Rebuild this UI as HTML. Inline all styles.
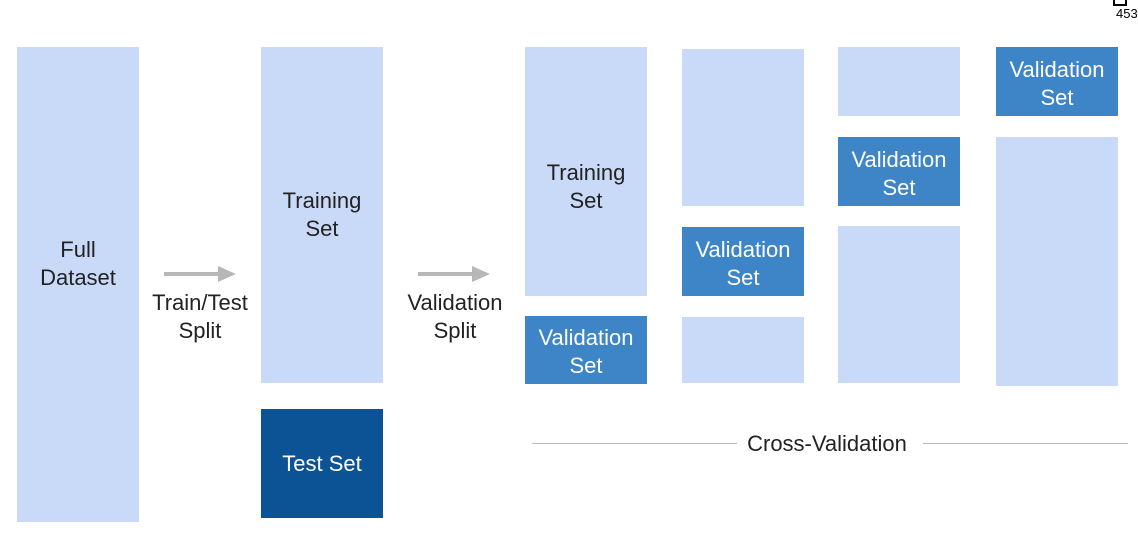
<!DOCTYPE html><html><head><style>
body{margin:0;width:1138px;height:540px;background:#fff;position:relative;overflow:hidden;font-family:"Liberation Sans",sans-serif;}
.b{position:absolute;display:flex;align-items:center;justify-content:center;text-align:center;font-size:22px;line-height:28px;color:#222;box-sizing:border-box}
.l{background:#c9daf8}.m{background:#3d85c6;color:#fff}.d{background:#0b5394;color:#fff}
.t{position:absolute;font-size:22px;line-height:28px;color:#222;text-align:center}
.ln{position:absolute;height:1px;background:#bbb;top:443px}
</style></head><body>
<div class="b l" style="left:17px;top:47px;width:122px;height:475px;padding-bottom:42px">Full<br>Dataset</div>
<div class="b l" style="left:261px;top:47px;width:122px;height:336px">Training<br>Set</div>
<div class="b d" style="left:261px;top:409px;width:122px;height:109px">Test Set</div>
<div class="b l" style="left:525px;top:47px;width:122px;height:249px;padding-top:30px">Training<br>Set</div>
<div class="b m" style="left:525px;top:316px;width:122px;height:68px;padding-top:4px">Validation<br>Set</div>
<div class="b l" style="left:682px;top:49px;width:122px;height:157px"></div>
<div class="b m" style="left:682px;top:227px;width:122px;height:69px;padding-top:4px">Validation<br>Set</div>
<div class="b l" style="left:682px;top:317px;width:122px;height:66px"></div>
<div class="b l" style="left:838px;top:47px;width:122px;height:69px"></div>
<div class="b m" style="left:838px;top:137px;width:122px;height:69px;padding-top:4px">Validation<br>Set</div>
<div class="b l" style="left:838px;top:226px;width:122px;height:157px"></div>
<div class="b m" style="left:996px;top:47px;width:122px;height:69px;padding-top:4px">Validation<br>Set</div>
<div class="b l" style="left:996px;top:137px;width:122px;height:249px"></div>
<svg style="position:absolute;left:0;top:0" width="1138" height="540">
<line x1="164" y1="274" x2="220" y2="274" stroke="#b7b7b7" stroke-width="4"/>
<polygon points="218,266 236,274 218,282" fill="#b7b7b7"/>
<line x1="418" y1="274" x2="474" y2="274" stroke="#b7b7b7" stroke-width="4"/>
<polygon points="472,266 490,274 472,282" fill="#b7b7b7"/>
</svg>
<div class="t" style="left:140px;top:289px;width:120px">Train/Test<br>Split</div>
<div class="t" style="left:395px;top:289px;width:120px">Validation<br>Split</div>
<div class="ln" style="left:532px;width:205px"></div>
<div class="ln" style="left:923px;width:205px"></div>
<div class="t" style="left:737px;top:430px;width:180px">Cross-Validation</div>
<div style="position:absolute;left:1113px;top:0;width:14px;height:6px;border:2px solid #000;border-top:none;box-sizing:border-box"></div>
<div style="position:absolute;left:1116px;top:6px;font-size:13px;color:#000">453</div>
</body></html>
